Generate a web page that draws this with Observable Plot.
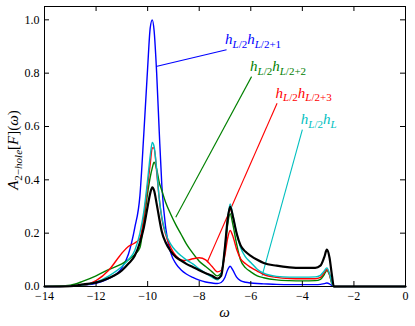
<!DOCTYPE html>
<html>
<head>
<meta charset="utf-8">
<script src="https://cdn.jsdelivr.net/npm/d3@7"></script>
<script src="https://cdn.jsdelivr.net/npm/@observablehq/plot@0.6"></script>
<style>
  html, body { margin: 0; padding: 0; background: white; }
</style>
</head>
<body>
<div id="chart"></div>
<script>
// shared frequency grid (omega)
const omega = [-14, -13, -12.5, -12, -11.5, -11, -10.75, -10.5, -10.3, -10.15, -10.0, -9.9, -9.82, -9.75, -9.65, -9.55, -9.45, -9.3, -9.1, -8.9, -8.7, -8.5, -8.25, -8.0, -7.75, -7.5, -7.3, -7.15, -7.0, -6.9, -6.8, -6.7, -6.55, -6.4, -6.2, -6.0, -5.75, -5.5, -5.0, -4.5, -4.0, -3.5, -3.3, -3.15, -3.05, -2.95, -2.85, -2.78, -2.5, -1, 0];

const blueVals = [0, 0.002, 0.005, 0.012, 0.03, 0.07, 0.12, 0.22, 0.34, 0.57, 0.82, 0.97, 1.0, 0.96, 0.8, 0.58, 0.38, 0.22, 0.125, 0.085, 0.062, 0.047, 0.034, 0.024, 0.017, 0.013, 0.011, 0.015, 0.035, 0.062, 0.076, 0.062, 0.035, 0.022, 0.016, 0.013, 0.011, 0.01, 0.008, 0.007, 0.007, 0.007, 0.008, 0.011, 0.013, 0.01, 0.003, 0, 0, 0, 0];

const greenVals = [0, 0.005, 0.02, 0.04, 0.064, 0.085, 0.1, 0.12, 0.145, 0.24, 0.35, 0.41, 0.445, 0.466, 0.44, 0.39, 0.36, 0.315, 0.27, 0.23, 0.195, 0.16, 0.125, 0.095, 0.075, 0.055, 0.04, 0.05, 0.14, 0.23, 0.273, 0.235, 0.16, 0.1, 0.07, 0.055, 0.04, 0.033, 0.025, 0.022, 0.021, 0.022, 0.027, 0.045, 0.06, 0.045, 0.01, 0, 0, 0, 0];

const redVals = [0, 0.001, 0.004, 0.022, 0.062, 0.125, 0.15, 0.163, 0.18, 0.26, 0.38, 0.46, 0.52, 0.52, 0.43, 0.33, 0.255, 0.195, 0.145, 0.115, 0.1, 0.098, 0.104, 0.108, 0.1, 0.075, 0.055, 0.06, 0.12, 0.18, 0.21, 0.19, 0.14, 0.105, 0.085, 0.072, 0.058, 0.045, 0.034, 0.03, 0.029, 0.029, 0.034, 0.052, 0.064, 0.045, 0.01, 0, 0, 0, 0];

const cyanVals = [0, 0.001, 0.005, 0.016, 0.04, 0.075, 0.1, 0.135, 0.2, 0.28, 0.4, 0.49, 0.54, 0.525, 0.44, 0.33, 0.26, 0.2, 0.158, 0.133, 0.115, 0.1, 0.085, 0.066, 0.05, 0.035, 0.025, 0.045, 0.15, 0.25, 0.31, 0.27, 0.2, 0.147, 0.11, 0.09, 0.065, 0.05, 0.038, 0.035, 0.035, 0.036, 0.042, 0.058, 0.07, 0.05, 0.01, 0, 0, 0, 0];

const blackVals = [0, 0.001, 0.008, 0.015, 0.032, 0.06, 0.085, 0.115, 0.165, 0.22, 0.3, 0.35, 0.372, 0.36, 0.31, 0.255, 0.205, 0.165, 0.132, 0.11, 0.097, 0.085, 0.073, 0.061, 0.05, 0.04, 0.03, 0.04, 0.15, 0.25, 0.3, 0.265, 0.2, 0.155, 0.13, 0.115, 0.1, 0.088, 0.078, 0.072, 0.07, 0.07, 0.078, 0.11, 0.138, 0.11, 0.04, 0, 0, 0, 0];

const xTicks = [-14, -12, -10, -8, -6, -4, -2, 0];
const yTicks = [0, 0.2, 0.4, 0.6, 0.8, 1.0];

// annotation pointers: [omega on curve, value on curve, omega at label, value at label]
const pointerBlue  = [-9.675, 0.825, -6.94, 0.888];
const pointerGreen = [-8.91, 0.26, -5.97, 0.787];
const pointerRed   = [-7.69, 0.091, -4.98, 0.687];
const pointerCyan  = [-5.56, 0.041, -4.0, 0.588];

const series = [
  {name: "b", vals: blueVals, color: "#0000ff", width: 1.4},
  {name: "g", vals: greenVals, color: "#008000", width: 1.4},
  {name: "r", vals: redVals, color: "#ff0000", width: 1.4},
  {name: "c", vals: cyanVals, color: "#00bfbf", width: 1.4},
  {name: "k", vals: blackVals, color: "#000000", width: 2.2}
];

const pointers = [
  {p: pointerBlue, color: "#0000ff", label: [["h", "L", "/2"], ["h", "L", "/2+1"]]},
  {p: pointerGreen, color: "#008000", label: [["h", "L", "/2"], ["h", "L", "/2+2"]]},
  {p: pointerRed, color: "#ff0000", label: [["h", "L", "/2"], ["h", "L", "/2+3"]]},
  {p: pointerCyan, color: "#00bfbf", label: [["h", "L", "/2"], ["h", "L", ""]]}
];

const W = 415, H = 326, ML = 44, MR = 10, MT = 6, MB = 40;
const TICK = 5;

const lineMarks = series.map(s => Plot.line(omega.map((o, i) => ({o, v: s.vals[i]})), {
  x: "o", y: "v", stroke: s.color, strokeWidth: s.width, curve: "monotone-x"
}));

const pointerMarks = pointers.map(pt => Plot.link([pt.p], {
  x1: d => d[0], y1: d => d[1], x2: d => d[2], y2: d => d[3], stroke: pt.color, strokeWidth: 1.1
}));

const plotH = H - MT - MB, plotW = W - ML - MR;

const plot = Plot.plot({
  width: W, height: H,
  marginLeft: ML, marginRight: MR, marginTop: MT, marginBottom: MB,
  style: {fontFamily: "Liberation Serif", fontSize: "12px", background: "white", color: "black"},
  x: {domain: [-14, 0]},
  y: {domain: [0, 1.05]},
  marks: [
    ...pointerMarks,
    ...lineMarks,
    // inward ticks on all four sides
    Plot.tickX(xTicks, {x: d => d, insetTop: plotH - TICK, stroke: "black"}),
    Plot.tickX(xTicks, {x: d => d, insetBottom: plotH - TICK, stroke: "black"}),
    Plot.tickY(yTicks, {y: d => d, insetRight: plotW - TICK, stroke: "black"}),
    Plot.tickY(yTicks, {y: d => d, insetLeft: plotW - TICK, stroke: "black"}),
    Plot.frame({stroke: "black", strokeWidth: 1}),
    Plot.axisX(xTicks, {anchor: "bottom", tickSize: 0, tickPadding: 5, tickFormat: d3.format("d"), label: null}),
    Plot.axisY(yTicks, {anchor: "left", tickSize: 0, tickPadding: 5, tickFormat: d3.format(".1f"), label: null})
  ]
});

document.getElementById("chart").appendChild(plot);

const svg = d3.select(plot);
const sx = plot.scale("x"), sy = plot.scale("y");

function mathText(g, parts, size, subSize, shift) {
  // parts: array of [text, italic, isSub]
  let cur = 0;
  for (const [txt, ital, isSub] of parts) {
    if (!txt) continue;
    const target = isSub ? shift : 0;
    const ts = g.append("tspan").text(txt)
      .attr("font-size", isSub ? subSize : size)
      .attr("font-style", ital ? "italic" : "normal");
    if (target !== cur) { ts.attr("dy", target - cur); cur = target; }
  }
}

for (const pt of pointers) {
  const x = sx.apply(pt.p[2]) - 1;
  const y = sy.apply(pt.p[3]) - 5;
  const t = svg.append("text").attr("x", x).attr("y", y)
    .attr("text-anchor", "start")
    .attr("fill", pt.color).attr("font-family", "Liberation Serif");
  const parts = [];
  for (const [h, L, rest] of pt.label) {
    parts.push([h, true, false]);
    parts.push([L, true, true]);
    parts.push([rest, false, true]);
  }
  mathText(t, parts, 15, 11, 3.5);
}

// y-axis label
{
  const cx = 18, cy = 150;
  const t = svg.append("text")
    .attr("transform", `translate(${cx},${cy}) rotate(-90)`)
    .attr("text-anchor", "middle")
    .attr("fill", "black").attr("font-family", "Liberation Serif");
  mathText(t, [["A", true, false], ["2\u2212", false, true], ["hole", true, true], ["[", false, false], ["F", true, false], ["](", false, false], ["\u03C9", true, false], [")", false, false]], 15, 11, 3.5);
}
// x-axis label
svg.append("text")
  .attr("x", (sx.apply(-14) + sx.apply(0)) / 2).attr("y", 317)
  .attr("text-anchor", "middle").attr("font-family", "Liberation Serif")
  .attr("font-size", 15).attr("font-style", "italic").attr("fill", "black")
  .text("\u03C9");
</script>
</body>
</html>
